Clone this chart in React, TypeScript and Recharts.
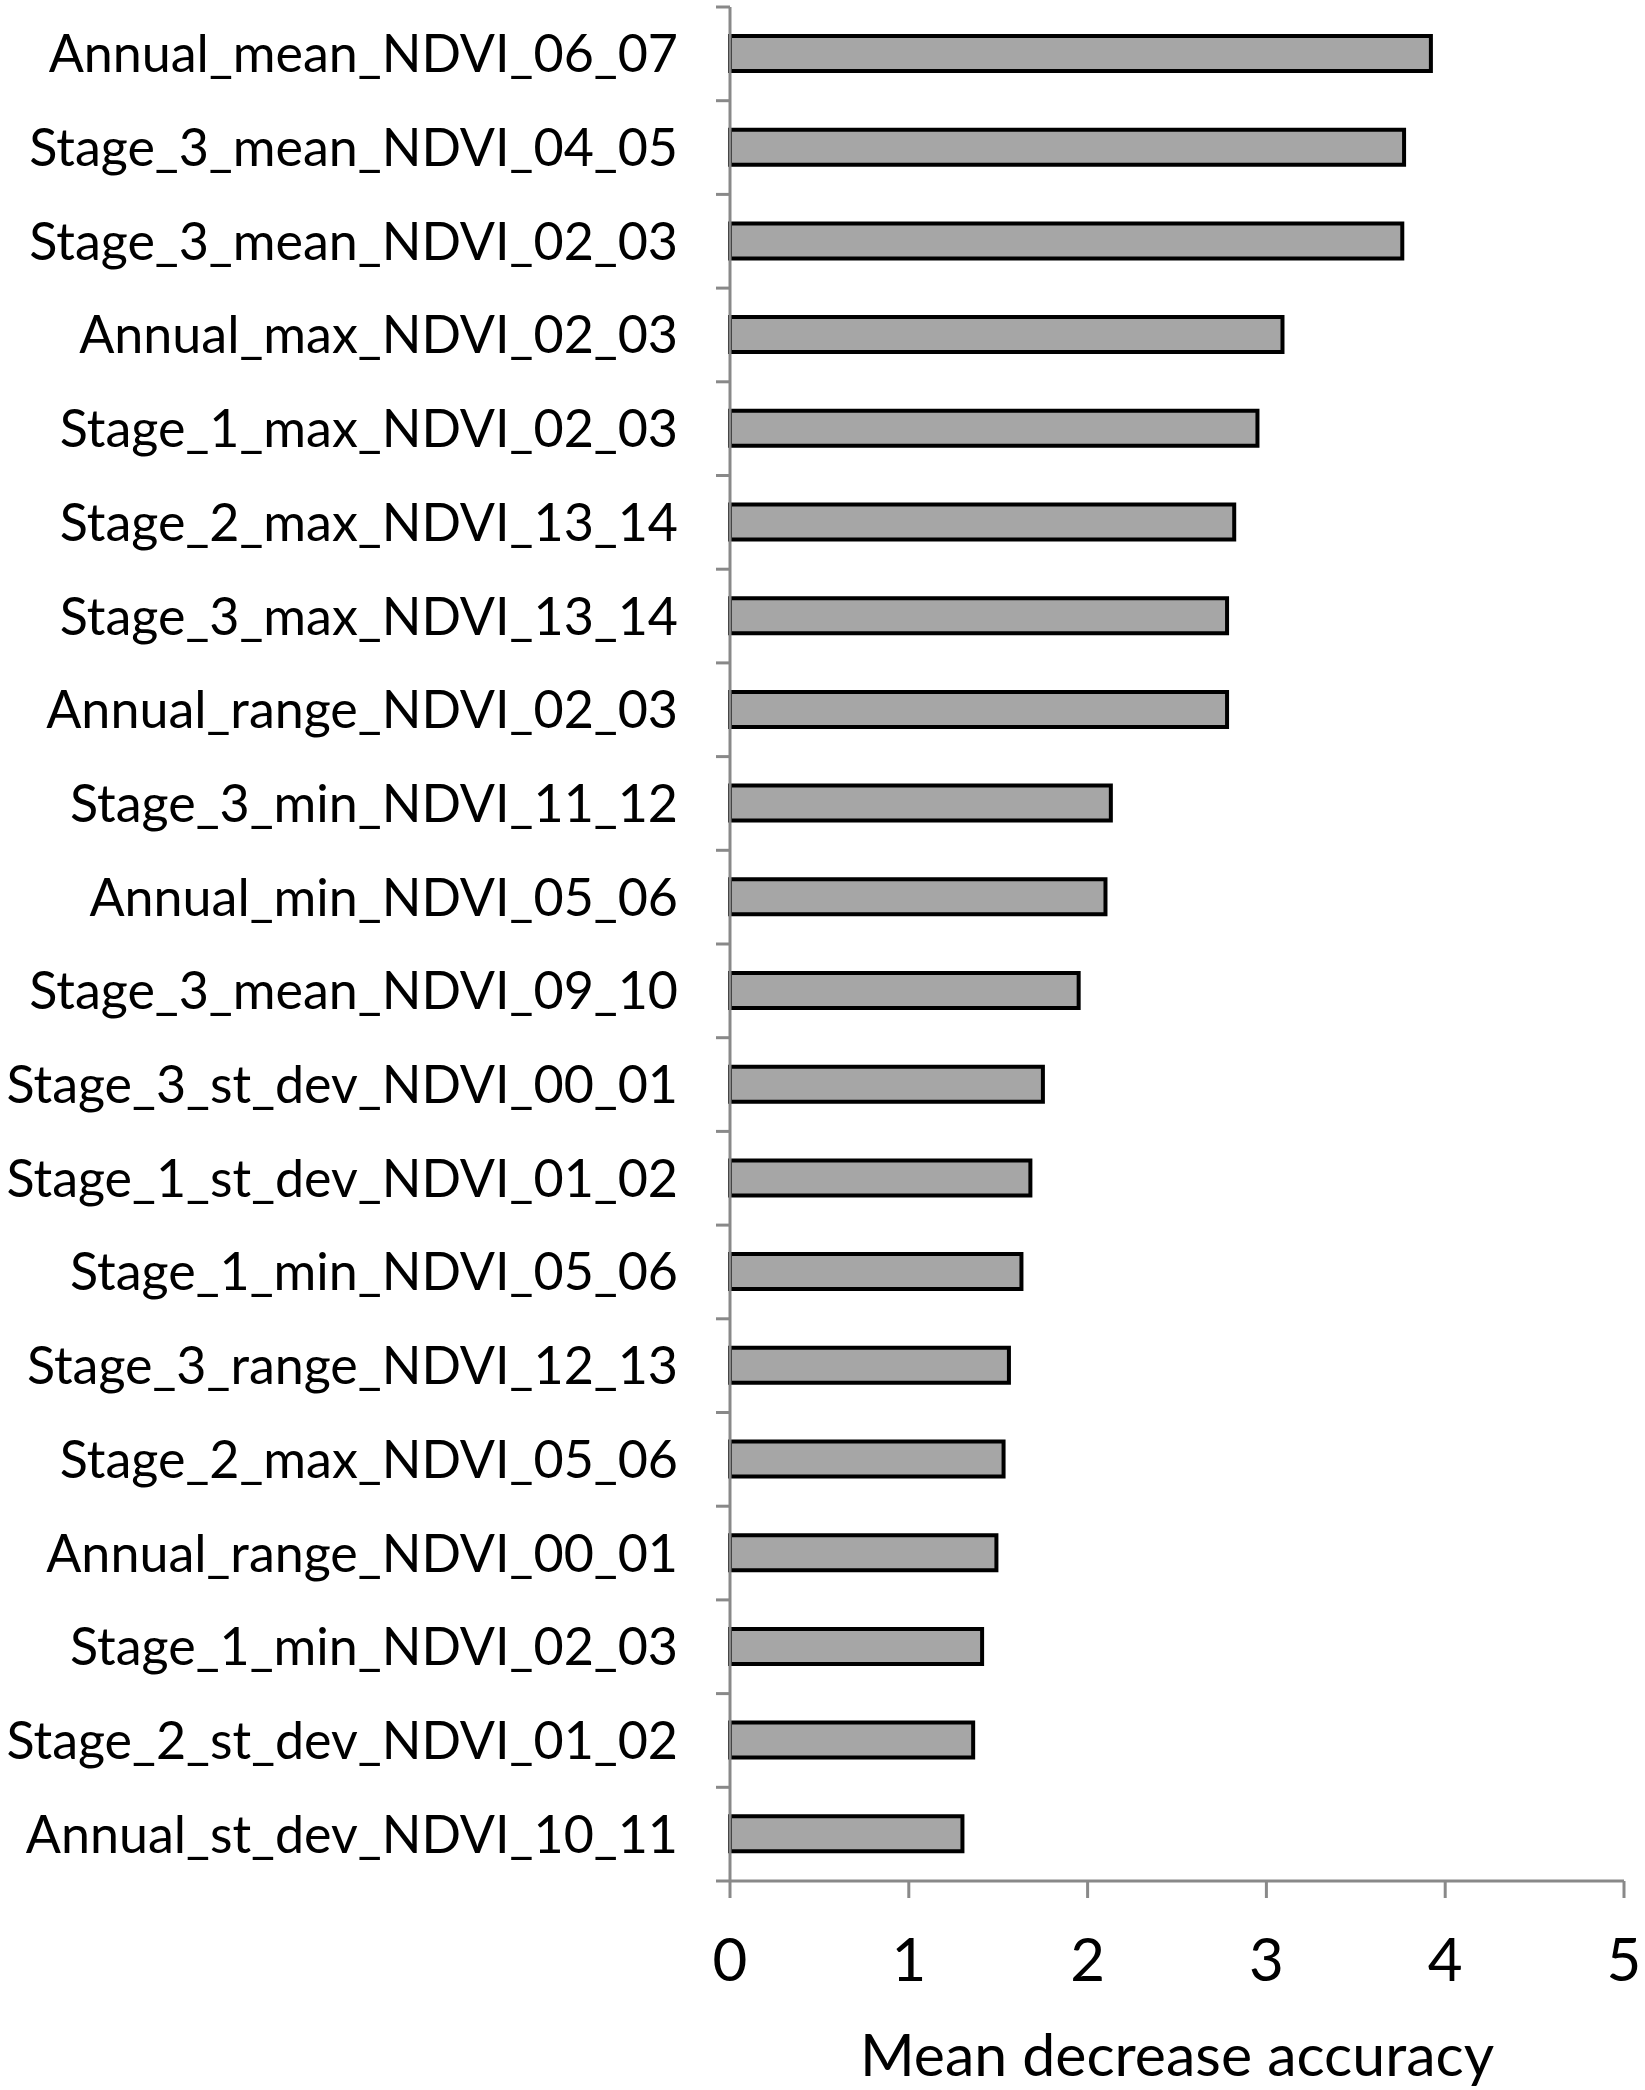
import { BarChart, Bar, XAxis, YAxis } from "recharts";

const features = [
  "Annual_mean_NDVI_06_07",
  "Stage_3_mean_NDVI_04_05",
  "Stage_3_mean_NDVI_02_03",
  "Annual_max_NDVI_02_03",
  "Stage_1_max_NDVI_02_03",
  "Stage_2_max_NDVI_13_14",
  "Stage_3_max_NDVI_13_14",
  "Annual_range_NDVI_02_03",
  "Stage_3_min_NDVI_11_12",
  "Annual_min_NDVI_05_06",
  "Stage_3_mean_NDVI_09_10",
  "Stage_3_st_dev_NDVI_00_01",
  "Stage_1_st_dev_NDVI_01_02",
  "Stage_1_min_NDVI_05_06",
  "Stage_3_range_NDVI_12_13",
  "Stage_2_max_NDVI_05_06",
  "Annual_range_NDVI_00_01",
  "Stage_1_min_NDVI_02_03",
  "Stage_2_st_dev_NDVI_01_02",
  "Annual_st_dev_NDVI_10_11",
];

const accuracy = [
  3.92, 3.77, 3.76, 3.09, 2.95, 2.82, 2.78, 2.78, 2.13, 2.1,
  1.95, 1.75, 1.68, 1.63, 1.56, 1.53, 1.49, 1.41, 1.36, 1.3,
];

const xTicks = [0, 1, 2, 3, 4, 5];

const data = features.map((name, i) => ({ name, value: accuracy[i] }));

const axisGrey = "#898989";
const font = "Lato, 'Noto Sans', sans-serif";
const labelGap = 52;
const edgeTick = 14;

// category label plus Excel-style tick marks on the band edges
function NameTick(props: any) {
  const { x, y, payload, index, visibleTicksCount } = props;
  const half = payload?.offset ?? 0;
  const axisX = x + labelGap;
  const isLast = index === visibleTicksCount - 1;
  return (
    <g>
      <line x1={axisX - edgeTick} x2={axisX} y1={y - half} y2={y - half} stroke={axisGrey} strokeWidth={3} />
      {isLast && (
        <line x1={axisX - edgeTick} x2={axisX} y1={y + half} y2={y + half} stroke={axisGrey} strokeWidth={3} />
      )}
      <text x={x} y={y} dy="0.355em" textAnchor="end" fill="#000" fontSize={52} fontFamily={font}>
        {payload.value}
      </text>
    </g>
  );
}

export default function App() {
  return (
    <div style={{ position: "absolute", left: 0, top: 0, background: "#fff" }}>
      <BarChart
        width={1645}
        height={2090}
        data={data}
        layout="vertical"
        margin={{ top: 7, right: 21, bottom: 0, left: 0 }}
      >
        <XAxis
          type="number"
          domain={[0, 5]}
          ticks={xTicks}
          axisLine={{ stroke: axisGrey, strokeWidth: 3 }}
          tickLine={{ stroke: axisGrey, strokeWidth: 3 }}
          tickSize={17}
          tickMargin={40}
          height={209}
          tick={{ fill: "#000", fontSize: 60, fontFamily: font }}
          label={{
            value: "Mean decrease accuracy",
            position: "insideBottom",
            offset: 14,
            fill: "#000",
            fontSize: 59,
            fontFamily: font,
          }}
        />
        <YAxis
          type="category"
          dataKey="name"
          width={730}
          interval={0}
          axisLine={{ stroke: axisGrey, strokeWidth: 3 }}
          tickLine={false}
          tickSize={0}
          tickMargin={labelGap}
          tick={NameTick}
        />
        <Bar
          dataKey="value"
          fill="#a6a6a6"
          stroke="#000"
          strokeWidth={4}
          barSize={35}
          isAnimationActive={false}
        />
      </BarChart>
    </div>
  );
}
